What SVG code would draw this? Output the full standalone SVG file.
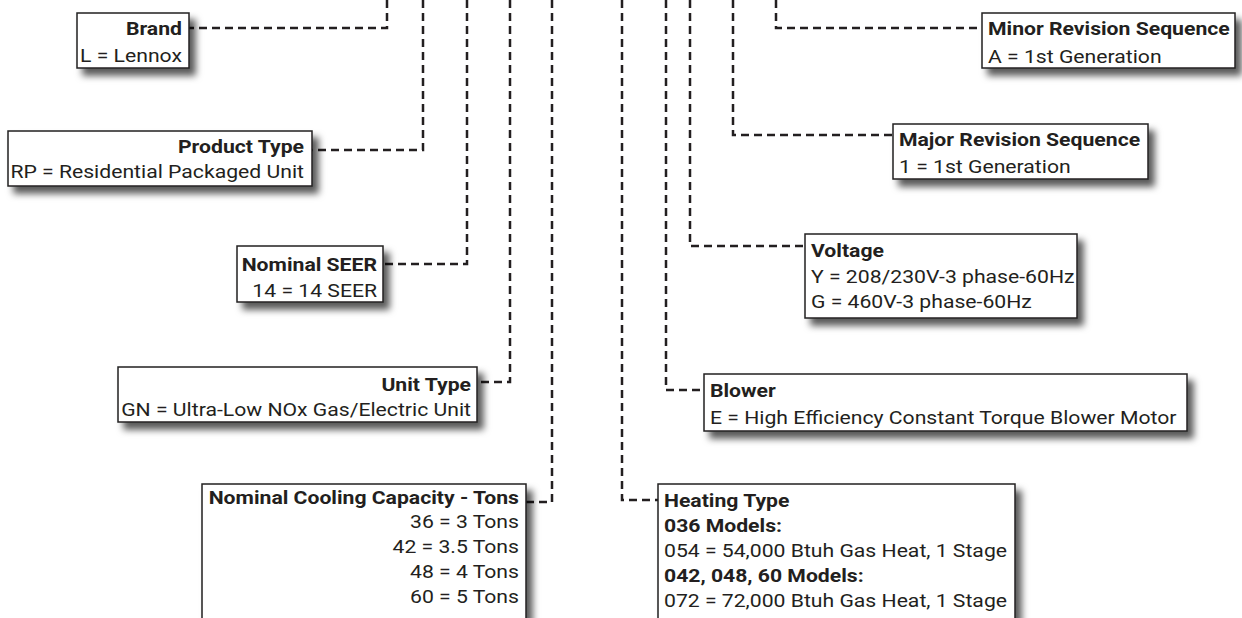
<svg xmlns="http://www.w3.org/2000/svg" width="1242" height="618" viewBox="0 0 1242 618">
<style>
.box{fill:#fff;stroke:#231f20;stroke-width:1.5;filter:url(#sh)}
.t{font-family:Roboto,"Liberation Sans",sans-serif;font-size:19px;fill:#231f20}
.b{font-weight:700}
.e{text-anchor:end}
.c{fill:none;stroke:#231f20;stroke-width:2.5;stroke-dasharray:8 5}
</style>
<defs>
<filter id="sh" x="-10%" y="-20%" width="130%" height="160%">
<feDropShadow dx="6" dy="7" stdDeviation="3.5" flood-color="#000" flood-opacity="0.65"/>
</filter>
</defs>
<g id="connectors">
<path class="c" d="M387,0 V28 H189"/>
<path class="c" d="M423,0 V150 H312"/>
<path class="c" d="M467,0 V264 H383"/>
<path class="c" d="M510,0 V382 H477"/>
<path class="c" d="M552,0 V502 H526"/>
<path class="c" d="M622,0 V500 H658"/>
<path class="c" d="M666,0 V390 H704"/>
<path class="c" d="M690,0 V246 H805"/>
<path class="c" d="M733,0 V135 H893"/>
<path class="c" d="M776,0 V28 H982"/>
</g>
<g id="brand">
<rect class="box" x="77" y="13" width="112" height="55"/>
<g transform="matrix(1.115 0 0 1 -20.93 0)">
<text class="t b e" x="182" y="35">Brand</text>
<text class="t e" x="182" y="62">L = Lennox</text>
</g>
</g>
<g id="product-type">
<rect class="box" x="8" y="131" width="304" height="55"/>
<g transform="matrix(1.115 0 0 1 -34.96 0)">
<text class="t b e" x="304" y="153">Product Type</text>
<text class="t e" x="304" y="178">RP = Residential Packaged Unit</text>
</g>
</g>
<g id="nominal-seer">
<rect class="box" x="237" y="246" width="146" height="56"/>
<g transform="matrix(1.115 0 0 1 -43.355 0)">
<text class="t b e" x="377" y="271">Nominal SEER</text>
<text class="t e" x="377" y="297">14 = 14 SEER</text>
</g>
</g>
<g id="unit-type">
<rect class="box" x="118" y="367" width="359" height="55"/>
<g transform="matrix(1.115 0 0 1 -54.165 0)">
<text class="t b e" x="471" y="391">Unit Type</text>
<text class="t e" x="471" y="416">GN = Ultra-Low NOx Gas/Electric Unit</text>
</g>
</g>
<g id="cooling-capacity">
<rect class="box" x="202" y="484" width="324" height="150"/>
<g transform="matrix(1.115 0 0 1 -59.685 0)">
<text class="t b e" x="519" y="504">Nominal Cooling Capacity - Tons</text>
<text class="t e" x="519" y="528">36 = 3 Tons</text>
<text class="t e" x="519" y="553">42 = 3.5 Tons</text>
<text class="t e" x="519" y="578">48 = 4 Tons</text>
<text class="t e" x="519" y="603">60 = 5 Tons</text>
</g>
</g>
<g id="heating-type">
<rect class="box" x="658" y="484" width="357" height="150"/>
<g transform="matrix(1.115 0 0 1 -76.36 0)">
<text class="t b" x="664" y="507">Heating Type</text>
<text class="t b" x="664" y="532">036 Models:</text>
<text class="t" x="664" y="557">054 = 54,000 Btuh Gas Heat, 1 Stage</text>
<text class="t b" x="664" y="582">042, 048, 60 Models:</text>
<text class="t" x="664" y="607">072 = 72,000 Btuh Gas Heat, 1 Stage</text>
</g>
</g>
<g id="blower">
<rect class="box" x="704" y="374" width="483" height="57"/>
<g transform="matrix(1.115 0 0 1 -81.65 0)">
<text class="t b" x="710" y="397">Blower</text>
<text class="t" x="710" y="424">E = High Efficiency Constant Torque Blower Motor</text>
</g>
</g>
<g id="voltage">
<rect class="box" x="805" y="234" width="272" height="84"/>
<g transform="matrix(1.115 0 0 1 -93.265 0)">
<text class="t b" x="811" y="257">Voltage</text>
<text class="t" x="811" y="283">Y = 208/230V-3 phase-60Hz</text>
<text class="t" x="811" y="308">G = 460V-3 phase-60Hz</text>
</g>
</g>
<g id="major-revision">
<rect class="box" x="893" y="124" width="255" height="55"/>
<g transform="matrix(1.115 0 0 1 -103.385 0)">
<text class="t b" x="899" y="146">Major Revision Sequence</text>
<text class="t" x="899" y="173">1 = 1st Generation</text>
</g>
</g>
<g id="minor-revision">
<rect class="box" x="982" y="13" width="253" height="55"/>
<g transform="matrix(1.115 0 0 1 -113.62 0)">
<text class="t b" x="988" y="35">Minor Revision Sequence</text>
<text class="t" x="988" y="63">A = 1st Generation</text>
</g>
</g>
</svg>
